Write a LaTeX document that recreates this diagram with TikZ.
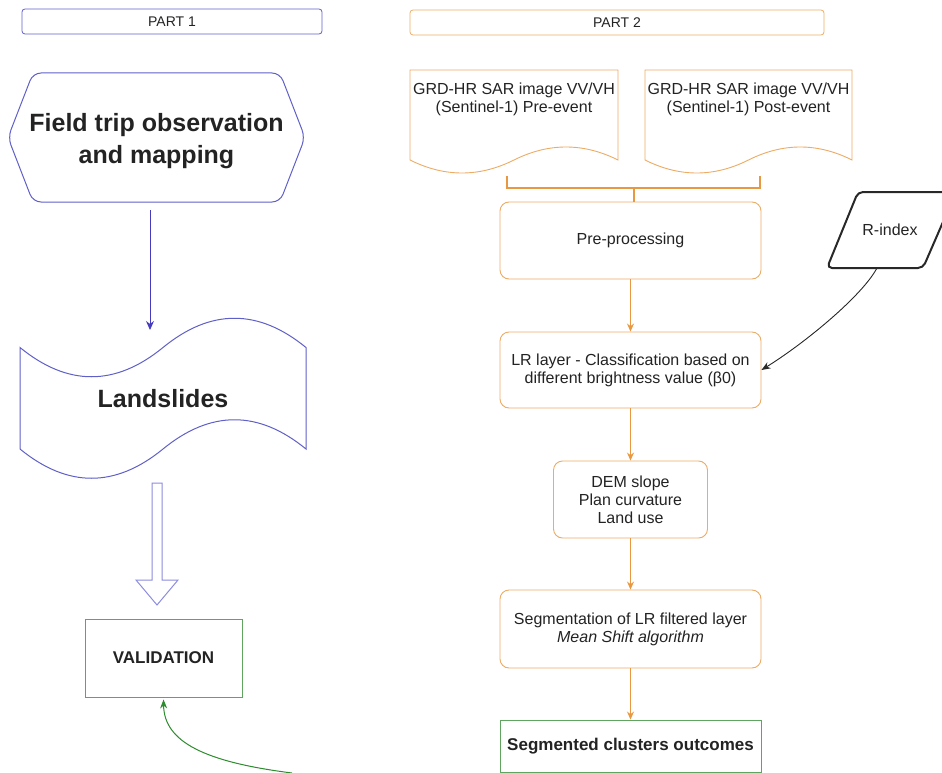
\documentclass[tikz,border=0pt]{standalone}
\usepackage{fontspec}
\setmainfont{Liberation Sans}
\usetikzlibrary{arrows.meta,calc}
\definecolor{txt}{RGB}{35,35,35}
\definecolor{pone}{RGB}{95,95,200}
\definecolor{ponearr}{RGB}{70,60,190}
\definecolor{hollowc}{RGB}{140,140,225}
\definecolor{oline}{RGB}{236,172,100}
\definecolor{oarr}{RGB}{232,152,64}
\definecolor{gline}{RGB}{95,165,95}
\definecolor{garr}{RGB}{45,140,45}
\definecolor{rline}{RGB}{40,40,40}
\begin{document}
\begin{tikzpicture}[x=1pt,y=-1pt,
  parttitle/.style={draw, line width=0.8pt, rounded corners=3pt, minimum height=25pt, inner sep=0pt, font=\fontsize{14}{16}\selectfont, text=txt},
  obox/.style={draw=oline, fill=white, line width=0.9pt, rounded corners=9pt, minimum height=77pt, inner sep=0pt, align=center, font=\fontsize{16}{18}\selectfont, text=txt},
  oarrow/.style={draw=oarr, line width=1pt, -{Stealth[length=8pt,width=7pt]}},
  gbox/.style={draw=gline, fill=white, line width=0.9pt, inner sep=0pt, font=\bfseries\fontsize{17}{20}\selectfont, text=txt},
  bigtext/.style={font=\bfseries\fontsize{25}{32}\selectfont, align=center, text=txt},
  frame/.style={inner sep=0pt, outer sep=0pt, draw=none},
  dtext/.style={align=center, inner sep=0pt, font=\fontsize{16}{18}\selectfont, text=txt},
  docshape/.style={draw=oline, fill=white, line width=0.9pt},
  bracketline/.style={draw=oarr, line width=1.2pt},
]
\useasboundingbox (0,0) rectangle (942,773);

% ---------- PART 1 ----------
\node[parttitle, draw=pone, minimum width=300pt] (part1) at (172,21.5) {PART 1};

\draw[pone, line width=1pt, rounded corners=8pt]
  (156,73) -- (280,73) -- (305,137.5) -- (280,202) -- (33,202) -- (8,137.5) -- (33,73) -- cycle;
\node[frame, minimum width=297pt, minimum height=129pt, bigtext] (hex) at (156.5,141.5)
  {Field trip observation\\and mapping};

\draw[pone, line width=1pt]
  (20,347.5) .. controls (67.67,386.5) and (115.33,386.5) .. (163,347.5)
  .. controls (210.67,308.5) and (258.33,308.5) .. (306,347.5)
  -- (306,449) .. controls (258.33,410) and (210.67,410) .. (163,449)
  .. controls (115.33,488) and (67.67,488) .. (20,449) -- cycle;
\node[frame, minimum width=286pt, minimum height=166.5pt, bigtext] (land) at (163,398.25) {Landslides};

\draw[draw=ponearr, line width=1pt, -{Stealth[length=9pt,width=8pt]}, shorten <=4pt]
  ([xshift=-6.5pt]hex.south) -- ([xshift=-13pt,yshift=-15pt]land.north);

\draw[hollowc, line width=1pt, line join=miter]
  (152,483) -- (162,483) -- (162,580) -- (178,580) -- (157,605) -- (136,580) -- (152,580) -- cycle;

\node[gbox, minimum width=157pt, minimum height=78pt] (val) at (163.5,658) {VALIDATION};

\coordinate (gend) at (292,773);
\draw[draw=garr, line width=1pt, -{Stealth[length=9pt,width=7pt]}, shorten >=2pt]
  (gend) .. controls (205,762) and (164,742) .. (val.south);

% ---------- PART 2 ----------
\node[parttitle, draw=oline, minimum width=414pt] (part2) at (617,22.5) {PART 2};

\draw[docshape] (410,70) -- (618,70) -- (618,160)
  .. controls (583.33,142.67) and (548.67,142.67) .. (514,160)
  .. controls (479.33,177.33) and (444.67,177.33) .. (410,160) -- cycle;
\draw[docshape] (645,70) -- (852,70) -- (852,160)
  .. controls (817.5,142.67) and (783,142.67) .. (748.5,160)
  .. controls (714,177.33) and (679.5,177.33) .. (645,160) -- cycle;
\node[frame, minimum width=208pt, minimum height=104.5pt, anchor=north west] (doc1) at (410,70) {};
\node[frame, minimum width=207pt, minimum height=104.5pt, anchor=north west] (doc2) at (645,70) {};
\node[dtext] (doc1t) at (514,99) {GRD-HR SAR image VV/VH\\(Sentinel-1) Pre-event};
\node[dtext] (doc2t) at (748.5,99) {GRD-HR SAR image VV/VH\\(Sentinel-1) Post-event};

\node[obox, minimum width=261pt] (pre) at (630.5,240.5) {Pre-processing};
\node[obox, minimum width=261pt, minimum height=76pt] (lr) at (630.5,370)
  {LR layer - Classification based on\\different brightness value (β0)};
\node[obox, minimum width=154pt] (dem) at (630.5,499.5) {DEM slope\\Plan curvature\\Land use};
\node[obox, minimum width=261pt, minimum height=78pt] (seg) at (630.5,629)
  {Segmentation of LR filtered layer\\\textit{Mean Shift algorithm}};
\node[gbox, minimum width=261pt, minimum height=52pt] (clus) at (630.5,746) {Segmented clusters outcomes};

\draw[bracketline] ($(doc1.south)+(-7,1.5)$) -- ++(0,12) -| ($(doc2.south)+(11.5,1.5)$);
\draw[bracketline] ([xshift=3.5pt]pre.north) -- ++(0,-14);

\draw[oarrow] (pre.south) -- (lr.north);
\draw[oarrow] (lr.south) -- (dem.north);
\draw[oarrow] (dem.south) -- (seg.north);
\draw[oarrow] (seg.south) -- (clus.north);

% R-index
\draw[rline, line width=2pt, rounded corners=5pt]
  (875,268) -- (923,268) -- (956,192) -- (858,192) -- (827,268) -- cycle;
\node[frame, minimum width=100pt, minimum height=76pt, font=\fontsize{16}{18}\selectfont, text=txt] (rix) at (890,230) {R-index};
\draw[draw=rline, line width=0.9pt, -{Stealth[length=9pt,width=7pt]}]
  ([xshift=-13pt]rix.south) .. controls (862,296) and (805,343) .. (lr.east);
\end{tikzpicture}
\end{document}
